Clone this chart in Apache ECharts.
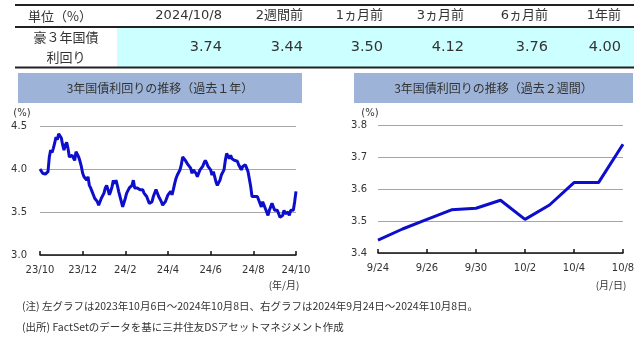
<!DOCTYPE html>
<html>
<head>
<meta charset="utf-8">
<script src="https://cdn.jsdelivr.net/npm/echarts@6/dist/echarts.min.js"></script>
<style>
  html, body { margin: 0; padding: 0; background: #fff; }
  #chart { width: 640px; height: 342px; }
</style>
</head>
<body>
<div id="chart"></div>
<script>
// Summary table
const unitLabel = '単位（%）';
const rowLabel = ['豪３年国債', '利回り'];
const tableHeaders = ['2024/10/8', '2週間前', '1ヵ月前', '3ヵ月前', '6ヵ月前', '1年前'];
const tableValues = [3.74, 3.44, 3.50, 4.12, 3.76, 4.00];

// Left chart: past year
const yearTitle = '3年国債利回りの推移（過去１年）';
const yearTickLabels = ['23/10', '23/12', '24/2', '24/4', '24/6', '24/8', '24/10'];
const yearYields = [
  4.00, 3.98, 3.95, 3.93, 3.94, 3.92, 3.97, 4.14, 4.22, 4.19, 4.24, 4.30, 4.37, 4.34,
  4.41, 4.43, 4.36, 4.28, 4.22, 4.28, 4.31, 4.24, 4.14, 4.12,
  4.16, 4.18, 4.10, 4.20, 4.22, 4.14, 4.09, 4.03, 3.95, 3.91,
  3.93, 3.87, 3.91, 3.81, 3.78, 3.74, 3.70, 3.66, 3.68, 3.62,
  3.58, 3.62, 3.66, 3.68, 3.72, 3.78, 3.81, 3.76, 3.70, 3.74,
  3.79, 3.87, 3.83, 3.87, 3.81, 3.74, 3.68, 3.62, 3.56, 3.58,
  3.66, 3.72, 3.74, 3.78, 3.76, 3.81,
  3.87, 3.78, 3.79, 3.78, 3.79, 3.76, 3.78, 3.76, 3.72, 3.70,
  3.68, 3.64, 3.60, 3.58, 3.62, 3.68, 3.72, 3.76, 3.72, 3.68,
  3.66, 3.62, 3.58, 3.60, 3.62, 3.64, 3.70, 3.68, 3.74, 3.70,
  3.76, 3.83, 3.89, 3.93, 3.91, 3.99, 4.05, 4.14, 4.15, 4.10,
  4.09, 4.05, 4.07, 4.01, 3.95, 3.99, 4.01, 3.95, 3.91, 3.95,
  3.99, 3.97, 4.03, 4.07, 4.10, 4.07, 4.03, 4.05, 3.99, 3.93,
  3.97, 3.91, 3.85, 3.81, 3.79, 3.87, 3.93, 3.92, 3.99, 4.10,
  4.18, 4.15, 4.12, 4.16, 4.12, 4.14, 4.10, 4.10, 4.09, 4.05,
  4.02, 3.99, 4.03, 4.01, 4.05, 4.01, 3.97, 3.99,
  3.80, 3.68, 3.70, 3.68, 3.66, 3.68, 3.64, 3.60, 3.56, 3.62,
  3.58, 3.54, 3.50, 3.46, 3.52, 3.56, 3.60, 3.56, 3.52, 3.54,
  3.52, 3.48, 3.44, 3.42, 3.46, 3.52, 3.48, 3.46, 3.50, 3.46,
  3.52, 3.50, 3.52, 3.62, 3.74
];

// Right chart: past two weeks
const weekTitle = '3年国債利回りの推移（過去２週間）';
const weekDates = ['9/24', '9/25', '9/26', '9/27', '9/30', '10/1', '10/2', '10/3', '10/4', '10/7', '10/8'];
const weekYields = [3.44, 3.475, 3.505, 3.535, 3.54, 3.565, 3.505, 3.55, 3.62, 3.62, 3.74];

const notes = [
  '(注) 左グラフは2023年10月6日～2024年10月8日、右グラフは2024年9月24日～2024年10月8日。',
  '(出所) FactSetのデータを基に三井住友DSアセットマネジメント作成'
];

const JP = "'Noto Sans CJK JP', sans-serif";
const NUM = "'DejaVu Sans', 'Noto Sans CJK JP', sans-serif";
const TEXT = '#333';
const LINE = '#0d0dcc';
const GRID = '#a6a6a6';

const chart = echarts.init(document.getElementById('chart'), null, { renderer: 'canvas' });

// Table graphics
const colRight = [222, 303, 383, 464, 548, 621];
const graphics = [
  { type: 'rect', shape: { x: 117, y: 28, width: 517, height: 39 }, style: { fill: '#ccffff' } },
  { type: 'line', shape: { x1: 15, y1: 5, x2: 634, y2: 5 }, style: { stroke: '#222', lineWidth: 2 } },
  { type: 'line', shape: { x1: 15, y1: 27, x2: 634, y2: 27 }, style: { stroke: '#222', lineWidth: 2 } },
  { type: 'line', shape: { x1: 15, y1: 67.5, x2: 634, y2: 67.5 }, style: { stroke: '#222', lineWidth: 2 } },
  { type: 'text', x: 60, y: 16, style: { text: unitLabel, font: '13px ' + JP, fill: TEXT, align: 'center', verticalAlign: 'middle' } },
  { type: 'text', x: 66, y: 37, style: { text: rowLabel[0], font: '13px ' + JP, fill: TEXT, align: 'center', verticalAlign: 'middle' } },
  { type: 'text', x: 66, y: 57, style: { text: rowLabel[1], font: '13px ' + JP, fill: TEXT, align: 'center', verticalAlign: 'middle' } }
];
tableHeaders.forEach((h, i) => {
  graphics.push({ type: 'text', x: colRight[i], y: 16,
    style: { text: h, font: '13px ' + NUM, fill: TEXT, align: 'right', verticalAlign: 'middle' } });
  graphics.push({ type: 'text', x: colRight[i], y: 47,
    style: { text: tableValues[i].toFixed(2), font: '14.5px ' + NUM, fill: TEXT, align: 'right', verticalAlign: 'middle' } });
});

// Chart title bars
[[18, 284, yearTitle], [354, 279, weekTitle]].forEach(([x, w, t]) => {
  graphics.push({ type: 'rect', shape: { x: x, y: 73, width: w, height: 30 }, style: { fill: '#9db3d7' } });
  graphics.push({ type: 'text', x: x + w / 2, y: 88,
    style: { text: t, font: '12px ' + JP, fill: TEXT, align: 'center', verticalAlign: 'middle' } });
});

// Unit and axis captions
graphics.push({ type: 'text', x: 22, y: 113, style: { text: '(%)', font: '10px ' + NUM, fill: TEXT, align: 'center', verticalAlign: 'middle' } });
graphics.push({ type: 'text', x: 370, y: 113, style: { text: '(%)', font: '10px ' + NUM, fill: TEXT, align: 'center', verticalAlign: 'middle' } });
graphics.push({ type: 'text', x: 284, y: 285, style: { text: '(年/月)', font: '10px ' + JP, fill: TEXT, align: 'center', verticalAlign: 'middle' } });
graphics.push({ type: 'text', x: 611, y: 285, style: { text: '(月/日)', font: '10px ' + JP, fill: TEXT, align: 'center', verticalAlign: 'middle' } });

// Footnotes
notes.forEach((n, i) => {
  graphics.push({ type: 'text', x: 22, y: 306 + i * 21,
    style: { text: n, font: '10.5px ' + JP, fill: TEXT, align: 'left', verticalAlign: 'middle' } });
});

const yearStep = (yearYields.length - 1) / (yearTickLabels.length - 1);
const yearTickShown = (i) => i % yearStep === 0;

const axisLabelStyle = { color: TEXT, fontFamily: NUM, fontSize: 10 };

chart.setOption({
  animation: false,
  backgroundColor: '#fff',
  graphic: graphics,
  grid: [
    { left: 40, top: 126, width: 256, height: 129 },
    { left: 378, top: 125, width: 245, height: 128 }
  ],
  xAxis: [
    {
      type: 'category', gridIndex: 0, boundaryGap: false,
      data: yearYields.map((_, i) => i),
      axisLine: { lineStyle: { color: '#111', width: 1.5 } },
      axisTick: { inside: true, length: 4, interval: yearTickShown, lineStyle: { color: '#111', width: 1.5 } },
      axisLabel: Object.assign({ margin: 10, interval: yearTickShown,
        formatter: (v, i) => yearTickLabels[i / yearStep] }, axisLabelStyle)
    },
    {
      type: 'category', gridIndex: 1, boundaryGap: false,
      data: weekDates,
      axisLine: { lineStyle: { color: '#111', width: 1.5 } },
      axisTick: { inside: true, length: 4, interval: 1, lineStyle: { color: '#111', width: 1.5 } },
      axisLabel: Object.assign({ margin: 10, interval: 1 }, axisLabelStyle)
    }
  ],
  yAxis: [
    {
      type: 'value', gridIndex: 0, min: 3.0, max: 4.5, interval: 0.5,
      axisLine: { show: false }, axisTick: { show: false },
      splitLine: { lineStyle: { color: GRID, width: 1 } },
      axisLabel: Object.assign({ margin: 13, formatter: (v) => v.toFixed(1) }, axisLabelStyle)
    },
    {
      type: 'value', gridIndex: 1, min: 3.4, max: 3.8, interval: 0.1,
      axisLine: { show: false }, axisTick: { show: false },
      splitLine: { lineStyle: { color: GRID, width: 1 } },
      axisLabel: Object.assign({ margin: 11, formatter: (v) => v.toFixed(1) }, axisLabelStyle)
    }
  ],
  series: [
    {
      type: 'line', xAxisIndex: 0, yAxisIndex: 0, data: yearYields,
      showSymbol: false, lineStyle: { color: LINE, width: 3 }, z: 3
    },
    {
      type: 'line', xAxisIndex: 1, yAxisIndex: 1, data: weekYields,
      showSymbol: false, lineStyle: { color: LINE, width: 3 }, z: 3
    }
  ]
});
</script>
</body>
</html>
